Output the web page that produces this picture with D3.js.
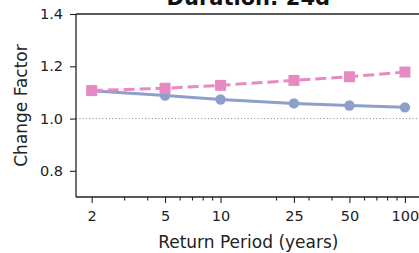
<!DOCTYPE html>
<html><head><meta charset="utf-8">
<script src="https://cdn.jsdelivr.net/npm/d3@7"></script>
<style>body{margin:0;background:#fff}svg{display:block}text{font-family:"DejaVu Sans",sans-serif}</style>
</head><body><svg id="c" width="419" height="253"></svg>
<script>
const returnPeriods = [2, 5, 10, 25, 50, 100];
const seriesBlue = [1.106, 1.088, 1.073, 1.058, 1.050, 1.043];
const seriesPink = [1.107, 1.116, 1.127, 1.146, 1.160, 1.178];
const yTicks = [0.8, 1.0, 1.2, 1.4];
const xMinorTicks = [3,4,6,7,8,9,20,30,40,60,70,80,90];
const title = "Duration: 24d";

const svg = d3.select("#c");
const L = 76, R = 420.6, T = 14, B = 197;
const x = d3.scaleLog().domain([2 * Math.pow(50, -0.05), 100 * Math.pow(50, 0.05)]).range([L, R]);
const y = d3.scaleLinear().domain([0.7, 1.4]).range([B, T]);

// reference line
svg.append("line").attr("x1", L).attr("x2", R).attr("y1", y(1)).attr("y2", y(1))
  .attr("stroke", "#808080").attr("stroke-width", 1).attr("stroke-dasharray", "1,2.3");

const line = d3.line().x((d, i) => x(returnPeriods[i])).y(d => y(d));
svg.append("path").datum(seriesBlue).attr("d", line).attr("fill", "none")
  .attr("stroke", "#8da0cb").attr("stroke-width", 3);
svg.selectAll(".cb").data(seriesBlue).enter().append("circle")
  .attr("cx", (d, i) => x(returnPeriods[i])).attr("cy", d => y(d)).attr("r", 5.2).attr("fill", "#8da0cb");
svg.append("path").datum(seriesPink).attr("d", line).attr("fill", "none")
  .attr("stroke", "#e78ac3").attr("stroke-width", 3).attr("stroke-dasharray", "11,5");
svg.selectAll(".sp").data(seriesPink).enter().append("rect")
  .attr("x", (d, i) => x(returnPeriods[i]) - 5.5).attr("y", d => y(d) - 5.5)
  .attr("width", 11).attr("height", 11).attr("fill", "#e78ac3");

// axes
const xAxis = d3.axisBottom(x).tickValues(returnPeriods).tickFormat(d3.format("d")).tickSize(6).tickPadding(8);
const gx = svg.append("g").attr("transform", `translate(0,${B})`).call(xAxis);
const xMinor = d3.axisBottom(x).tickValues(xMinorTicks).tickFormat("").tickSize(3.5);
const gxm = svg.append("g").attr("transform", `translate(0,${B})`).call(xMinor);
const yAxis = d3.axisLeft(y).tickValues(yTicks).tickFormat(d3.format(".1f")).tickSize(6).tickPadding(7);
const gy = svg.append("g").attr("transform", `translate(${L},0)`).call(yAxis);
[gx, gxm, gy].forEach(g => {
  g.select(".domain").remove();
  g.selectAll("line").attr("stroke", "#222").attr("stroke-width", 1.1);
  g.selectAll("text").attr("fill", "#222").style("font-size", "14.5px").style("font-family", "DejaVu Sans");
});
// spines
svg.append("line").attr("x1", L).attr("x2", L).attr("y1", T).attr("y2", B).attr("stroke", "#222").attr("stroke-width", 1.3);
svg.append("line").attr("x1", L).attr("x2", R).attr("y1", B).attr("y2", B).attr("stroke", "#222").attr("stroke-width", 1.3);
svg.append("line").attr("x1", L).attr("x2", R).attr("y1", T).attr("y2", T).attr("stroke", "#222").attr("stroke-width", 1.3);

svg.append("text").attr("x", (L + R) / 2).attr("y", 5).attr("text-anchor", "middle")
  .style("font-size", "21px").style("font-weight", "bold").attr("fill", "#111").text(title);
svg.append("text").attr("x", (L + R) / 2).attr("y", 248).attr("text-anchor", "middle")
  .style("font-size", "17px").attr("fill", "#222").text("Return Period (years)");
svg.append("text").attr("transform", `translate(27,${(T + B) / 2}) rotate(-90)`).attr("text-anchor", "middle")
  .style("font-size", "17px").attr("fill", "#222").text("Change Factor");
</script></body></html>
